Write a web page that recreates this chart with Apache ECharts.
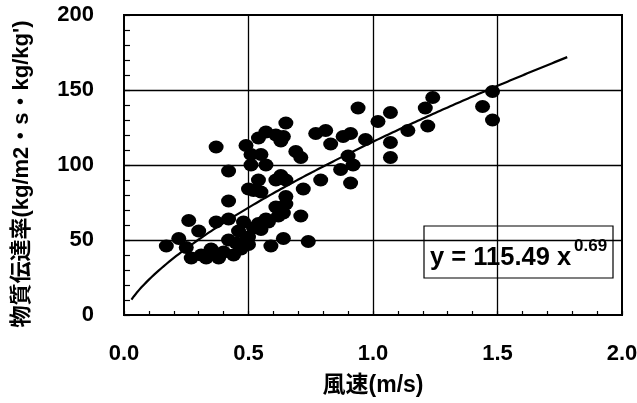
<!DOCTYPE html>
<html>
<head>
<meta charset="utf-8">
<script src="https://cdn.jsdelivr.net/npm/echarts@6/dist/echarts.min.js"></script>
<style>
  html, body { margin: 0; padding: 0; background: #fff; }
  #chart { width: 637px; height: 403px; }
</style>
</head>
<body>
<div id="chart"></div>
<script>
// Measured wind speed (m/s) and mass transfer rate for each observation
const windSpeed = [
  0.17, 0.22, 0.25, 0.26, 0.27, 0.30, 0.31, 0.33, 0.35, 0.37,
  0.38, 0.37, 0.40, 0.42, 0.42, 0.42, 0.42, 0.44, 0.45, 0.46,
  0.47, 0.48, 0.49, 0.50, 0.50, 0.51, 0.51, 0.49, 0.52, 0.52,
  0.54, 0.54, 0.54, 0.55, 0.55, 0.57, 0.57, 0.57, 0.58, 0.59,
  0.61, 0.61, 0.61, 0.62, 0.63, 0.63, 0.64, 0.64, 0.64, 0.65,
  0.65, 0.65, 0.65, 0.69, 0.71, 0.71, 0.72, 0.74, 0.77, 0.79,
  0.81, 0.83, 0.87, 0.88, 0.90, 0.91, 0.91, 0.92, 0.94, 0.97,
  1.02, 1.07, 1.07, 1.07, 1.14, 1.21, 1.22, 1.24, 1.44, 1.48,
  1.48, 0.55, 0.50
];
const transferRate = [
  46, 51, 45, 63, 38, 56, 40, 38, 44, 62,
  38, 112, 42, 50, 64, 76, 96, 40, 48, 56,
  44, 62, 50, 47, 84, 100, 107, 113, 58, 83,
  61, 90, 118, 82, 107, 64, 100, 122, 62, 46,
  72, 90, 120, 66, 93, 116, 51, 68, 119, 74,
  79, 90, 128, 109, 66, 105, 84, 49, 121, 90,
  123, 114, 97, 119, 106, 88, 121, 100, 138, 117,
  129, 135, 115, 105, 123, 138, 126, 145, 139, 149,
  130, 57, 52
];

// Power-law fit y = a * x^b as printed in the equation box
const fitCoef = 115.49;
const fitExp = 0.69;
const fitRange = [0.03, 1.78];

// Labelled ticks (with grid lines) and the small-tick steps between them
const xTicks = [0.0, 0.5, 1.0, 1.5, 2.0];
const yTicks = [0, 50, 100, 150, 200];
const xMinorStep = 0.1;
const yMinorStep = 10;

const points = windSpeed.map((x, i) => [x, transferRate[i]]);
const fitLine = [];
for (let k = 0; k <= 175; k++) {
  const x = fitRange[0] + (fitRange[1] - fitRange[0]) * k / 175;
  fitLine.push([x, fitCoef * Math.pow(x, fitExp)]);
}

const isMajor = (v, ticks) => ticks.some(t => Math.abs(t - v) < 1e-6);
const inner = ticks => ticks.slice(1, -1);

const latin = '"Liberation Sans", Arial, "Noto Sans CJK JP", sans-serif';
const chart = echarts.init(document.getElementById('chart'), null, { renderer: 'canvas' });

const gridLineStyle = { color: '#000', width: 1.3, type: 'solid' };

chart.setOption({
  backgroundColor: '#fff',
  animation: false,
  grid: {
    left: 124, right: 15, top: 15, bottom: 88,
    show: true, borderColor: '#000', borderWidth: 2,
    outerBoundsMode: 'none'
  },
  xAxis: {
    type: 'value',
    min: xTicks[0], max: xTicks[xTicks.length - 1], interval: xMinorStep,
    name: '風速(m/s)',
    nameLocation: 'middle',
    nameGap: 59,
    nameTextStyle: { fontFamily: latin, fontWeight: 'bold', fontSize: 23, color: '#000' },
    axisLine: { show: true, onZero: false, lineStyle: { color: '#000', width: 2 } },
    axisTick: { show: true, inside: true, length: 4, lineStyle: { color: '#000', width: 1.2 } },
    splitLine: { show: false },
    axisLabel: {
      margin: 28,
      fontFamily: latin, fontWeight: 'bold', fontSize: 22, color: '#000',
      formatter: v => isMajor(v, xTicks) ? v.toFixed(1) : ''
    }
  },
  yAxis: {
    type: 'value',
    min: yTicks[0], max: yTicks[yTicks.length - 1], interval: yMinorStep,
    name: '物質伝達率(kg/m2・s・kg/kg\')',
    nameLocation: 'middle',
    nameGap: 91,
    nameRotate: 90,
    nameTextStyle: {
      fontFamily: latin, fontWeight: 'bold', fontSize: 22, color: '#000',
      padding: [0, 18, 0, 0]
    },
    axisLine: { show: true, lineStyle: { color: '#000', width: 2 } },
    axisTick: { show: true, inside: true, length: 6, lineStyle: { color: '#000', width: 1.2 } },
    splitLine: { show: false },
    axisLabel: {
      margin: 30,
      fontFamily: latin, fontWeight: 'bold', fontSize: 22, color: '#000',
      formatter: v => isMajor(v, yTicks) ? String(v) : ''
    }
  },
  series: [
    {
      // grid lines at the labelled ticks, kept beneath the points
      type: 'scatter',
      data: [],
      z: 1,
      silent: true,
      markLine: {
        silent: true,
        symbol: 'none',
        label: { show: false },
        lineStyle: gridLineStyle,
        emphasis: { disabled: true },
        data: inner(xTicks).map(v => ({ xAxis: v }))
          .concat(inner(yTicks).map(v => ({ yAxis: v })))
      }
    },
    {
      type: 'scatter',
      data: points,
      symbol: 'circle',
      symbolSize: [15, 13],
      itemStyle: { color: '#000', opacity: 1 },
      z: 3
    },
    {
      type: 'line',
      data: fitLine,
      showSymbol: false,
      symbol: 'none',
      lineStyle: { color: '#000', width: 2.2 },
      z: 4
    }
  ],
  graphic: [
    {
      type: 'group',
      z: 100,
      children: [
        {
          type: 'rect',
          shape: { x: 424, y: 226, width: 189, height: 52 },
          style: { fill: '#fff', stroke: '#000', lineWidth: 1.2 }
        },
        {
          type: 'text',
          x: 430, y: 258,
          style: {
            text: 'y = 115.49 x',
            font: 'bold 25.5px ' + latin,
            fill: '#000',
            verticalAlign: 'middle'
          }
        },
        {
          type: 'text',
          x: 574, y: 246,
          style: {
            text: '0.69',
            font: 'bold 17px ' + latin,
            fill: '#000',
            verticalAlign: 'middle'
          }
        }
      ]
    }
  ]
});
</script>
</body>
</html>
